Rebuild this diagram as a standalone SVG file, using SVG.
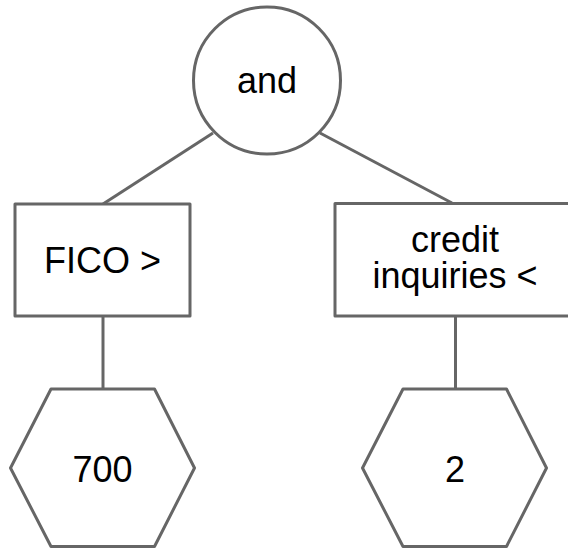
<svg xmlns="http://www.w3.org/2000/svg" width="568" height="551" viewBox="0 0 568 551">
<style>
.shape{fill:#ffffff;stroke:#666666;stroke-width:3;stroke-linejoin:round}
.edge{fill:none;stroke:#666666;stroke-width:3}
text{font-family:"Liberation Sans",Arial,sans-serif;font-size:36px;fill:#000000;text-anchor:middle}
</style>
<rect width="568" height="551" fill="#ffffff"/>
<g id="connectors">
<line class="edge" x1="213" y1="133" x2="103" y2="204"/>
<line class="edge" x1="320" y1="133" x2="452" y2="203"/>
<line class="edge" x1="103" y1="316" x2="103" y2="389"/>
<line class="edge" x1="455.5" y1="316" x2="455.5" y2="389"/>
</g>
<g id="node-and">
<circle class="shape" cx="267" cy="80.5" r="73.5"/>
<text x="267" y="93">and</text>
</g>
<g id="node-fico">
<rect class="shape" x="15" y="204" width="175" height="112"/>
<text x="102.5" y="273">FICO &gt;</text>
</g>
<g id="node-credit">
<rect class="shape" x="335" y="203.5" width="240" height="112.5"/>
<text x="455" y="252">credit</text>
<text x="455" y="288">inquiries &lt;</text>
</g>
<g id="node-700">
<polygon class="shape" points="51,389 154.5,389 194.5,468 154.5,546.5 51,546.5 10.5,468"/>
<text x="102.5" y="481.5">700</text>
</g>
<g id="node-2">
<polygon class="shape" points="403,389 506.5,389 546.5,468 506.5,546.5 403,546.5 362.5,468"/>
<text x="455" y="481.5">2</text>
</g>
</svg>
